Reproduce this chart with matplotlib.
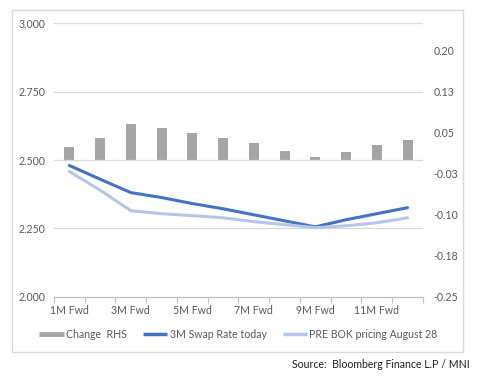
import matplotlib.pyplot as plt
import matplotlib.patches as mpatches
from matplotlib.lines import Line2D
import numpy as np

plt.rcParams['font.family'] = ['Lato', 'DejaVu Sans']

# data
tenors = ['1M Fwd', '2M Fwd', '3M Fwd', '4M Fwd', '5M Fwd', '6M Fwd',
          '7M Fwd', '8M Fwd', '9M Fwd', '10M Fwd', '11M Fwd', '12M Fwd']
change_rhs = [0.024, 0.040, 0.066, 0.059, 0.049, 0.040,
              0.031, 0.016, 0.005, 0.015, 0.027, 0.037]
swap_today = [2.480, 2.430, 2.381, 2.363, 2.341, 2.322,
              2.300, 2.278, 2.256, 2.282, 2.304, 2.326]
pre_bok = [2.458, 2.390, 2.315, 2.304, 2.297, 2.289,
           2.275, 2.264, 2.253, 2.260, 2.271, 2.289]

left_ticks = [2.000, 2.250, 2.500, 2.750, 3.000]
right_ticks = [-0.25, -0.175, -0.10, -0.025, 0.05, 0.125, 0.20]
right_labels = ['-0.25', '-0.18', '-0.10', '-0.03', '0.05', '0.13', '0.20']

txt = '#595959'
grid = '#D9D9D9'
dark = '#4472C4'
light = '#B4C7E7'
bar_c = '#A5A5A5'
fs = 7.6

fig = plt.figure(figsize=(4.8, 3.84), dpi=100)
ax = fig.add_axes([0.1125, 0.2266, 0.7687, 0.7134])
ax2 = ax.twinx()
ax.set_zorder(ax2.get_zorder() + 1)
ax.patch.set_visible(False)

x = np.arange(len(tenors))
ax2.bar(x, change_rhs, width=0.33, color=bar_c, zorder=2)
ax.plot(x, swap_today, color=dark, lw=2.2, solid_capstyle='round')
ax.plot(x, pre_bok, color=light, lw=2.2, solid_capstyle='round')

ax.set_xlim(-0.5, len(tenors) - 0.5)
ax.set_ylim(2.0, 3.0)
ax2.set_ylim(-0.25, 0.25)

ax.set_yticks(left_ticks)
ax.set_yticklabels(['%.3f' % v for v in left_ticks])
ax2.set_yticks(right_ticks)
ax2.set_yticklabels(right_labels)

ax.set_xticks(np.arange(-0.5, len(tenors), 1), minor=False)
ax.set_xticklabels([])
ax.set_xticks(x[::2], minor=True)
ax.set_xticklabels(tenors[::2], minor=True)
ax.tick_params(axis='x', which='major', length=4, color='#BFBFBF', width=0.8)
ax.tick_params(axis='x', which='minor', length=0, pad=6, labelsize=fs, labelcolor=txt)

for t in left_ticks[1:]:
    ax.axhline(t, color=grid, lw=0.9, zorder=0)

ax.tick_params(axis='y', length=0, pad=6.5, labelsize=fs, labelcolor=txt)
ax2.tick_params(axis='y', length=0, pad=7.5, labelsize=fs, labelcolor=txt)

for a in (ax, ax2):
    for s in ['top', 'left', 'right']:
        a.spines[s].set_visible(False)
    a.spines['bottom'].set_color('#BFBFBF')
    a.spines['bottom'].set_linewidth(0.8)

handles = [Line2D([], [], color=bar_c, lw=3.5, solid_capstyle='butt', label='Change  RHS'),
           Line2D([], [], color=dark, lw=2.5, solid_capstyle='butt', label='3M Swap Rate today'),
           Line2D([], [], color=light, lw=2.5, solid_capstyle='butt', label='PRE BOK pricing August 28')]
leg = fig.legend(handles=handles, loc='center', bbox_to_anchor=(0.497, 0.13), ncol=3,
                 frameon=False, fontsize=fs, handlelength=2.3,
                 handletextpad=0.25, columnspacing=1.5)
for t in leg.get_texts():
    t.set_color(txt)

fig.patches.append(mpatches.Rectangle((0.025, 0.0833), 0.94, 0.891, transform=fig.transFigure,
                                      fill=False, edgecolor=grid, lw=1))
fig.text(0.979, 0.05, 'Source:  Bloomberg Finance L.P / MNI', ha='right', va='center',
         fontsize=fs, color='#1F1F1F')

fig.savefig('out.png', dpi=100)
